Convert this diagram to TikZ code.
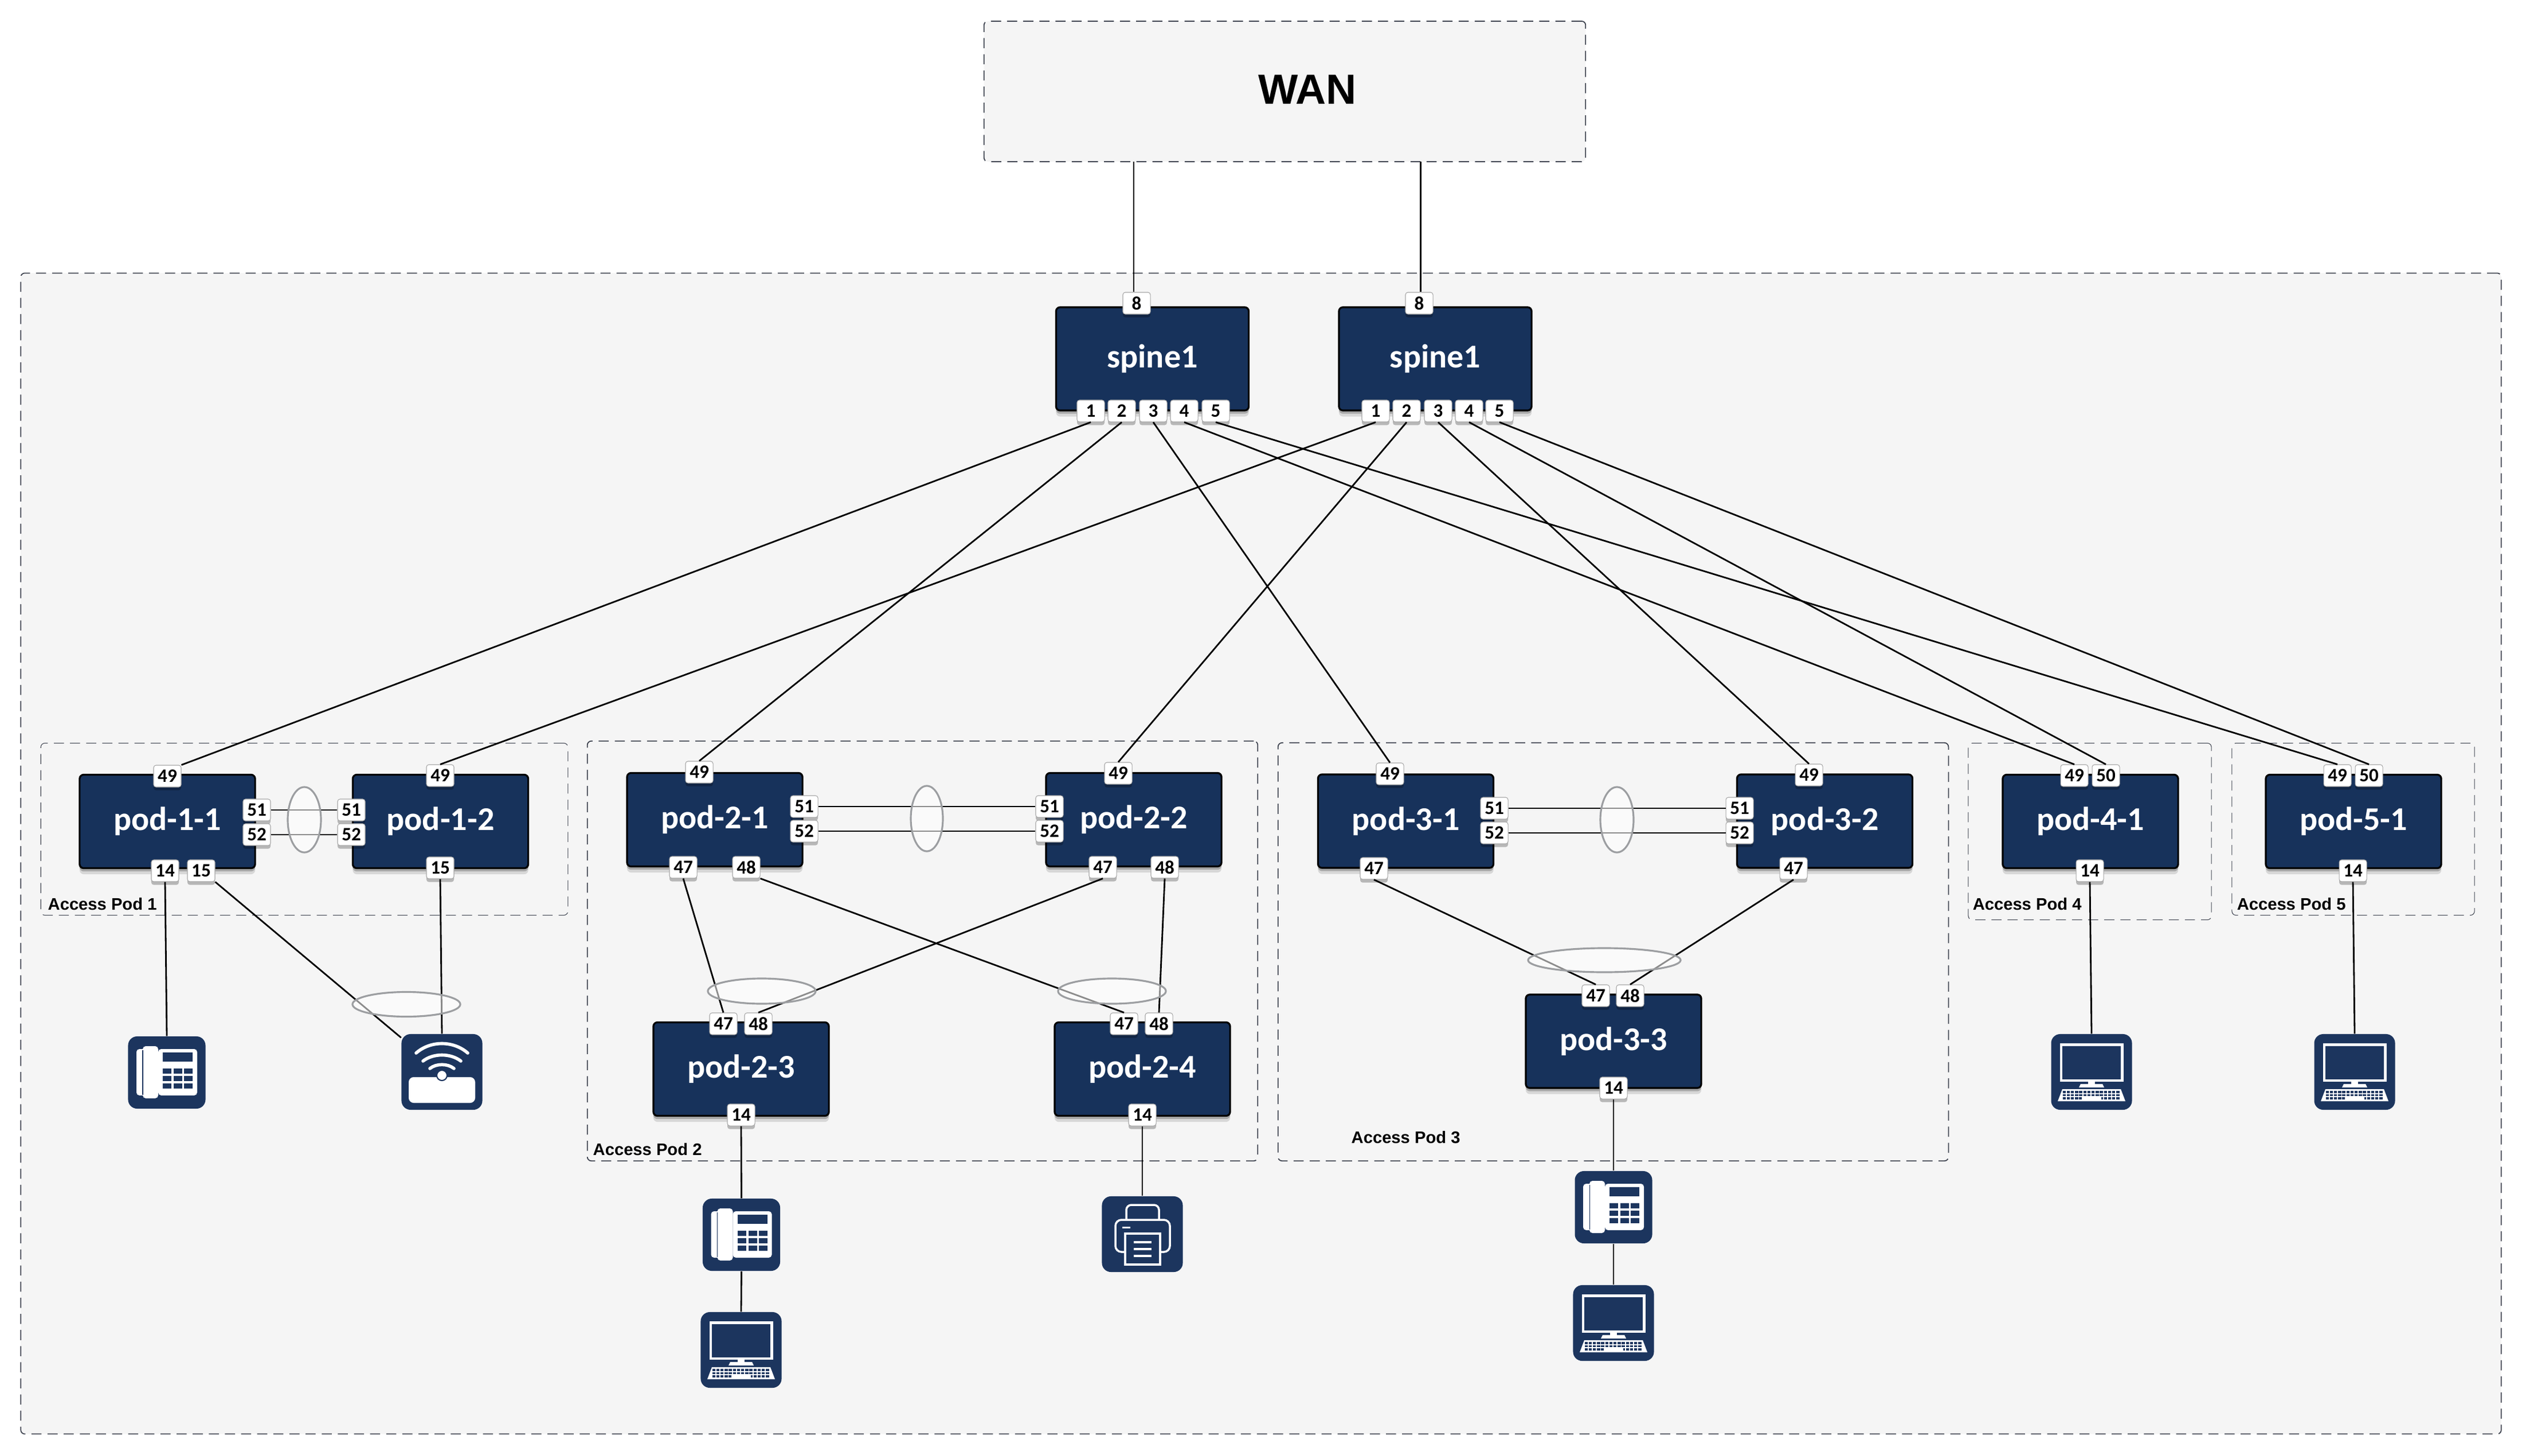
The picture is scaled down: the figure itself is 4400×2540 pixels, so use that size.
\documentclass[tikz,border=0pt]{standalone}
\usepackage{fontspec}
\setmainfont{Carlito}
\newfontfamily\headfont{Liberation Sans}
\usetikzlibrary{shadows,shapes.geometric}
\definecolor{navy}{HTML}{17325B}
\definecolor{iconnavy}{HTML}{1C355E}
\definecolor{areagray}{HTML}{F5F5F5}
\definecolor{dashgray}{HTML}{3F4450}
\definecolor{ringgray}{HTML}{9C9EA1}
\tikzset{
  areabox/.style={draw=dashgray,line width=0.5pt,dash pattern=on 5pt off 3pt,rounded corners=2pt,inner sep=0pt},
  thinbox/.style={areabox,line width=0.3pt},
  podbox/.style={draw=black,fill=navy,line width=0.9pt,rounded corners=2pt,inner sep=0pt,
    minimum width=3.06cm,minimum height=1.63cm,text=white,font=\fontsize{16.5}{18}\selectfont\bfseries,
    drop shadow={shadow xshift=0pt,shadow yshift=-3pt,opacity=.12,fill=black},
    drop shadow={shadow xshift=0pt,shadow yshift=-1.6pt,opacity=.22,fill=black}},
  spinebox/.style={podbox,minimum width=3.36cm,minimum height=1.80cm},
  portbox/.style={draw=gray!70,fill=white,line width=0.3pt,rounded corners=1.2pt,inner sep=0pt,
    minimum width=0.48cm,minimum height=0.38cm,font=\fontsize{9.4}{10}\selectfont\bfseries,
    drop shadow={shadow xshift=0pt,shadow yshift=-1.6pt,opacity=.25,fill=black}},
  iconbox/.style={fill=iconnavy,rounded corners=4.5pt,inner sep=0pt,minimum width=1.35cm,minimum height=1.26cm},
  ring/.style={draw=ringgray,line width=0.9pt,fill=white,fill opacity=.55,ellipse,inner sep=0pt},
  podlabel/.style={anchor=west,inner sep=0pt,font=\headfont\fontsize{8.3}{10}\selectfont\bfseries},
  link/.style={draw=black,line width=0.8pt},
  phone/.pic={
    \fill[white,rounded corners=1.5pt] (-53,-41) rectangle (-35,40);
    \fill[white,rounded corners=1.5pt] (-15,-41) rectangle (53,40);
    \fill[white,rounded corners=1.5pt] (-42,-46) rectangle (-15,45);
    \draw[iconnavy,line width=0.3pt] (-42,-39) -- (-42,39);
    \fill[iconnavy] (-7,-35) rectangle (45,-19);
    \foreach \kx in {-7,12,30} \foreach \ky in {-7,6,19}
      \fill[iconnavy] (\kx,\ky) rectangle ++(15,9);
  },
  accesspoint/.pic={
    \fill[white,rounded corners=2.5pt] (-58,9) rectangle (58,54);
    \fill[white,draw=iconnavy,line width=0.6pt] (0,6) circle [radius=9];
    \draw[white,line width=1.6pt,line cap=round] (-45,-33) .. controls (-20,-55) and (20,-55) .. (45,-33);
    \draw[white,line width=1.6pt,line cap=round] (-33,-19) .. controls (-15,-33) and (15,-33) .. (33,-19);
    \draw[white,line width=1.6pt,line cap=round] (-21,-6) .. controls (-10,-15) and (10,-15) .. (21,-6);
  },
  monitor/.pic={
    \fill[white] (-55.5,-50) rectangle (55.5,17);
    \fill[iconnavy] (-51,-45.5) rectangle (51,13);
    \fill[white] (-6,17) rectangle (6,22);
    \fill[white] (-19,21) -- (19,21) -- (22,27) -- (-22,27) -- cycle;
    \fill[white] (-51,30) -- (51,30) -- (59,51) -- (-59,51) -- cycle;
    \foreach \ky/\kn in {33/-7,38.5/-7,44/-7}
      \foreach \kx in {\kn,...,6}
        \fill[iconnavy] ({\kx*7.2},\ky) rectangle ++(5.4,3.8);
    \fill[white] (-17,44) rectangle (17,48);
  },
  printer/.pic={
    \draw[white,line width=1pt,rounded corners=2.5pt] (-28,-26) -- (-28,-51) -- (29,-51) -- (29,-26);
    \draw[white,line width=1pt,rounded corners=3pt] (-30,31) -- (-47,31) -- (-47,-25) -- (48,-25) -- (48,31) -- (31,31);
    \fill[white] (-35,-13) rectangle (-21,-10);
    \draw[white,fill=iconnavy,line width=1pt] (-30,-1) rectangle (31,53);
    \foreach \ky in {14,26,38}
      \draw[white,line width=1pt] (-15,\ky) -- (16,\ky);
  }
}
\begin{document}
\begin{tikzpicture}[x=0.01cm,y=-0.01cm]
  \useasboundingbox (0,0) rectangle (4400,2540);
  % areas
  \node[areabox,fill=areagray,minimum width=43.25cm,minimum height=20.24cm] (campus) at (2200,1489) {};
  \node[areabox,fill=areagray,minimum width=10.49cm,minimum height=2.45cm] (wan) at (2241.5,159.5) {};
  \node[inner sep=0pt,font=\headfont\fontsize{20.9}{24}\selectfont\bfseries] (wantext) at (2281,156) {WAN};
  \node[thinbox,minimum width=9.19cm,minimum height=3cm] (area1) at (531,1446.5) {};
  \node[areabox,minimum width=11.69cm,minimum height=7.32cm] (area2) at (1609.5,1659) {};
  \node[areabox,minimum width=11.69cm,minimum height=7.29cm] (area3) at (2814.5,1660.5) {};
  \node[thinbox,minimum width=4.24cm,minimum height=3.08cm] (area4) at (3646,1450.5) {};
  \node[thinbox,minimum width=4.23cm,minimum height=3cm] (area5) at (4105.5,1446.5) {};
  \node[podlabel] (label1) at (83,1577) {Access Pod 1};
  \node[podlabel] (label2) at (1034,2005) {Access Pod 2};
  \node[podlabel] (label3) at (2357,1984) {Access Pod 3};
  \node[podlabel] (label4) at (3441,1577) {Access Pod 4};
  \node[podlabel] (label5) at (3902,1577) {Access Pod 5};

  % switches
  \node[spinebox] (spa) at (2010.5,626) {spine1};
  \node[spinebox] (spb) at (2504,626) {spine1};
  \node[podbox] (pod11) at (292,1433) {pod-1-1};
  \node[podbox] (pod12) at (768.5,1433) {pod-1-2};
  \node[podbox] (pod21) at (1247,1430) {pod-2-1};
  \node[podbox] (pod22) at (1978,1430) {pod-2-2};
  \node[podbox] (pod23) at (1293,1865) {pod-2-3};
  \node[podbox] (pod24) at (1993,1865) {pod-2-4};
  \node[podbox] (pod31) at (2452.5,1432.5) {pod-3-1};
  \node[podbox] (pod32) at (3183.5,1432.5) {pod-3-2};
  \node[podbox] (pod33) at (2815,1816.5) {pod-3-3};
  \node[podbox] (pod41) at (3647,1433) {pod-4-1};
  \node[podbox] (pod51) at (4106,1433) {pod-5-1};

  % ports
  \node[portbox] (spa8) at (1983,529) {8};
  \node[portbox] (spb8) at (2476,529) {8};
  \foreach \n/\x in {1/1903,2/1957,3/2012,4/2066,5/2121}
    \node[portbox] (spa\n) at (\x,717) {\n};
  \foreach \n/\x in {1/2400,2/2454,3/2509,4/2563,5/2616}
    \node[portbox] (spb\n) at (\x,717) {\n};
  \node[portbox] (pod11p49) at (292,1354) {49};
  \node[portbox] (pod12p49) at (768,1353) {49};
  \node[portbox] (pod11p51) at (448,1413) {51};
  \node[portbox] (pod11p52) at (448,1456) {52};
  \node[portbox] (pod12p51) at (613,1413) {51};
  \node[portbox] (pod12p52) at (613,1456) {52};
  \node[portbox] (pod11p14) at (288,1519) {14};
  \node[portbox] (pod11p15) at (351,1519) {15};
  \node[portbox] (pod12p15) at (768,1514) {15};
  \node[portbox] (pod21p49) at (1220,1347) {49};
  \node[portbox] (pod22p49) at (1951,1349) {49};
  \node[portbox] (pod21p51) at (1403,1407) {51};
  \node[portbox] (pod21p52) at (1403,1450) {52};
  \node[portbox] (pod22p51) at (1831,1407) {51};
  \node[portbox] (pod22p52) at (1831,1450) {52};
  \node[portbox] (pod21p47) at (1192,1513) {47};
  \node[portbox] (pod21p48) at (1302,1513) {48};
  \node[portbox] (pod22p47) at (1924,1513) {47};
  \node[portbox] (pod22p48) at (2032,1513) {48};
  \node[portbox] (pod23p47) at (1262,1786) {47};
  \node[portbox] (pod23p48) at (1323,1786) {48};
  \node[portbox] (pod24p47) at (1961,1786) {47};
  \node[portbox] (pod24p48) at (2022,1786) {48};
  \node[portbox] (pod23p14) at (1293,1945) {14};
  \node[portbox] (pod24p14) at (1993,1945) {14};
  \node[portbox] (pod31p49) at (2425,1350) {49};
  \node[portbox] (pod32p49) at (3156,1352) {49};
  \node[portbox] (pod31p51) at (2607,1410) {51};
  \node[portbox] (pod31p52) at (2607,1453) {52};
  \node[portbox] (pod32p51) at (3035,1410) {51};
  \node[portbox] (pod32p52) at (3035,1453) {52};
  \node[portbox] (pod31p47) at (2397,1515) {47};
  \node[portbox] (pod32p47) at (3129,1515) {47};
  \node[portbox] (pod33p47) at (2784,1737) {47};
  \node[portbox] (pod33p48) at (2844,1737) {48};
  \node[portbox] (pod33p14) at (2815,1898) {14};
  \node[portbox] (pod41p49) at (3619,1353) {49};
  \node[portbox] (pod41p50) at (3674,1353) {50};
  \node[portbox] (pod51p49) at (4078,1353) {49};
  \node[portbox] (pod51p50) at (4133,1353) {50};
  \node[portbox] (pod41p14) at (3646,1519) {14};
  \node[portbox] (pod51p14) at (4105,1519) {14};

  % end devices
  \node[iconbox] (phone1) at (291,1871) {};
  \node[iconbox,minimum width=1.41cm,minimum height=1.32cm] (ap1) at (771,1870) {};
  \node[iconbox] (phone2) at (1293.5,2154) {};
  \node[iconbox,minimum width=1.41cm,minimum height=1.32cm] (pc2) at (1293,2355) {};
  \node[iconbox,minimum width=1.41cm,minimum height=1.32cm] (printer2) at (1993,2153) {};
  \node[iconbox] (phone3) at (2815,2106) {};
  \node[iconbox,minimum width=1.41cm,minimum height=1.32cm] (pc3) at (2815,2308) {};
  \node[iconbox,minimum width=1.41cm,minimum height=1.32cm] (pc4) at (3649,1870) {};
  \node[iconbox,minimum width=1.41cm,minimum height=1.32cm] (pc5) at (4108,1870) {};
  \pic at (phone1) {phone};
  \pic at (ap1) {accesspoint};
  \pic at (phone2) {phone};
  \pic at (pc2) {monitor};
  \pic at (printer2) {printer};
  \pic at (phone3) {phone};
  \pic at (pc3) {monitor};
  \pic at (pc4) {monitor};
  \pic at (pc5) {monitor};

  % links
  \coordinate (wanl) at (1978,282);
  \coordinate (wanr) at (2478.5,282);
  \draw[link] (wanl) -- (wanl |- spa8.north);
  \draw[link] (wanr) -- (wanr |- spb8.north);
  \draw[link] (spa1.south) -- (pod11p49.north east);
  \draw[link] (spa2.south) -- (pod21p49.north);
  \draw[link] (spa3.south) -- (pod31p49.north);
  \draw[link] (spa4.south) -- (pod41p49.north);
  \draw[link] (spa5.south) -- (pod51p49.north);
  \draw[link] (spb1.south) -- (pod12p49.north);
  \draw[link] (spb2.south) -- (pod22p49.north);
  \draw[link] (spb3.south) -- (pod32p49.north);
  \draw[link] (spb4.south) -- (pod41p50.north);
  \draw[link] (spb5.south) -- (pod51p50.north);
  \draw[link] (pod11p51) -- (pod12p51);
  \draw[link] (pod11p52) -- (pod12p52);
  \draw[link] (pod21p51) -- (pod22p51);
  \draw[link] (pod21p52) -- (pod22p52);
  \draw[link] (pod31p51) -- (pod32p51);
  \draw[link] (pod31p52) -- (pod32p52);
  \draw[link] (pod11p14.south) -- (phone1.north);
  \draw[link] (pod11p15.south east) -- (ap1.140);
  \draw[link] (pod12p15.south) -- (ap1.north);
  \draw[link] (pod21p47.south) -- (pod23p47.north);
  \draw[link] (pod21p48.south east) -- (pod24p47.north);
  \draw[link] (pod22p47.south) -- (pod23p48.north);
  \draw[link] (pod22p48.south) -- (pod24p48.north);
  \draw[link] (pod23p14.south) -- (phone2.north);
  \draw[link] (phone2.south) -- (pc2.north);
  \draw[link] (pod24p14.south) -- (printer2.north);
  \draw[link] (pod31p47.south) -- (pod33p47.north);
  \draw[link] (pod32p47.south) -- (pod33p48.north);
  \draw[link] (pod33p14.south) -- (phone3.north);
  \draw[link] (phone3.south) -- (pc3.north);
  \draw[link] (pod41p14.south) -- (pc4.north);
  \draw[link] (pod51p14.south) -- (pc5.north);

  % link groups
  \node[ring,minimum width=0.58cm,minimum height=1.14cm] (lag1) at (531,1430) {};
  \node[ring,minimum width=1.88cm,minimum height=0.43cm] (lag2) at (709,1752) {};
  \node[ring,minimum width=0.56cm,minimum height=1.14cm] (lag3) at (1617,1428) {};
  \node[ring,minimum width=1.88cm,minimum height=0.44cm] (lag4) at (1329,1729) {};
  \node[ring,minimum width=1.88cm,minimum height=0.44cm] (lag5) at (1940,1729) {};
  \node[ring,minimum width=0.58cm,minimum height=1.14cm] (lag6) at (2821,1430) {};
  \node[ring,minimum width=2.66cm,minimum height=0.42cm] (lag7) at (2799,1675) {};
\end{tikzpicture}
\end{document}
